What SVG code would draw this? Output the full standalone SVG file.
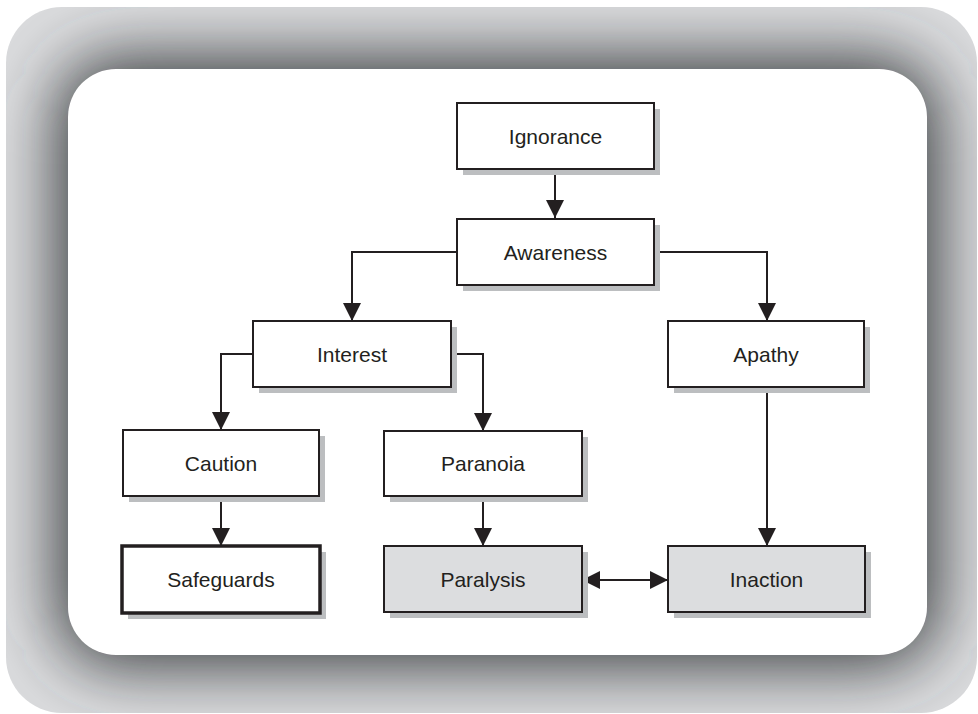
<svg xmlns="http://www.w3.org/2000/svg" width="978" height="714" viewBox="0 0 978 714">
  <defs>
    <style>
      .box { stroke: #231f20; stroke-width: 2; }
      .plain { fill: #ffffff; }
      .grey { fill: #dcdddf; }
      .heavy { fill: #ffffff; stroke-width: 3.5; }
      .shadow { fill: #bcbec0; }
      .label { font-family: "Liberation Sans", Arial, Helvetica, sans-serif; font-size: 21px; fill: #231f20; text-anchor: middle; }
      .wire { fill: none; stroke: #231f20; stroke-width: 2; }
    </style>
    <clipPath id="frameClip">
      <rect x="6" y="7" width="971" height="706" rx="56" ry="56"/>
    </clipPath>
    <filter id="soft" filterUnits="userSpaceOnUse" x="-150" y="-150" width="1280" height="1020">
      <feGaussianBlur stdDeviation="34"/>
    </filter>
    <marker id="arrowEnd" viewBox="0 0 18 18" refX="18" refY="9" markerWidth="18" markerHeight="18" markerUnits="userSpaceOnUse" orient="auto">
      <path d="M0,0 L18,9 L0,18 Z" fill="#231f20"/>
    </marker>
    <marker id="arrowStart" viewBox="0 0 18 18" refX="0" refY="9" markerWidth="18" markerHeight="18" markerUnits="userSpaceOnUse" orient="auto">
      <path d="M18,0 L0,9 L18,18 Z" fill="#231f20"/>
    </marker>
  </defs>

  <!-- shaded frame: light outer rim fading to a dark band round the white panel -->
  <g id="frame">
    <rect x="6" y="7" width="971" height="706" rx="56" ry="56" fill="#dbdcde"/>
    <g clip-path="url(#frameClip)">
      <rect x="58" y="59" width="879" height="606" rx="58" ry="58" fill="#36373b" filter="url(#soft)"/>
    </g>
    <rect x="68" y="69" width="859" height="586" rx="48" ry="48" fill="#ffffff"/>
  </g>

  <!-- connectors -->
  <g id="connectors">
    <path class="wire" d="M555,169 V218" marker-end="url(#arrowEnd)"/>
    <path class="wire" d="M457,252 H352 V321" marker-end="url(#arrowEnd)"/>
    <path class="wire" d="M654,252 H767 V321" marker-end="url(#arrowEnd)"/>
    <path class="wire" d="M253,354 H221 V430" marker-end="url(#arrowEnd)"/>
    <path class="wire" d="M451,354 H483 V431" marker-end="url(#arrowEnd)"/>
    <path class="wire" d="M221,496 V546" marker-end="url(#arrowEnd)"/>
    <path class="wire" d="M483,496 V546" marker-end="url(#arrowEnd)"/>
    <path class="wire" d="M767,387 V546" marker-end="url(#arrowEnd)"/>
    <path class="wire" d="M582,580 H668" marker-start="url(#arrowStart)" marker-end="url(#arrowEnd)"/>
  </g>

  <g id="ignorance">
    <rect class="shadow" x="463" y="109" width="197" height="66"/>
    <rect class="box plain" x="457" y="103" width="197" height="66"/>
    <text class="label" x="555.5" y="143.5">Ignorance</text>
  </g>
  <g id="awareness">
    <rect class="shadow" x="463" y="225" width="197" height="66"/>
    <rect class="box plain" x="457" y="219" width="197" height="66"/>
    <text class="label" x="555.5" y="259.5">Awareness</text>
  </g>
  <g id="interest">
    <rect class="shadow" x="259" y="327" width="198" height="66"/>
    <rect class="box plain" x="253" y="321" width="198" height="66"/>
    <text class="label" x="352" y="361.5">Interest</text>
  </g>
  <g id="apathy">
    <rect class="shadow" x="674" y="327" width="196" height="66"/>
    <rect class="box plain" x="668" y="321" width="196" height="66"/>
    <text class="label" x="766" y="361.5">Apathy</text>
  </g>
  <g id="caution">
    <rect class="shadow" x="129" y="436" width="196" height="66"/>
    <rect class="box plain" x="123" y="430" width="196" height="66"/>
    <text class="label" x="221" y="470.5">Caution</text>
  </g>
  <g id="paranoia">
    <rect class="shadow" x="390" y="437" width="198" height="65"/>
    <rect class="box plain" x="384" y="431" width="198" height="65"/>
    <text class="label" x="483" y="471">Paranoia</text>
  </g>
  <g id="safeguards">
    <rect class="shadow" x="128" y="552" width="198" height="67"/>
    <rect class="box heavy" x="122" y="546" width="198" height="67"/>
    <text class="label" x="221" y="587">Safeguards</text>
  </g>
  <g id="paralysis">
    <rect class="shadow" x="390" y="552" width="198" height="66"/>
    <rect class="box grey" x="384" y="546" width="198" height="66"/>
    <text class="label" x="483" y="586.5">Paralysis</text>
  </g>
  <g id="inaction">
    <rect class="shadow" x="674" y="552" width="197" height="66"/>
    <rect class="box grey" x="668" y="546" width="197" height="66"/>
    <text class="label" x="766.5" y="586.5">Inaction</text>
  </g>
</svg>
